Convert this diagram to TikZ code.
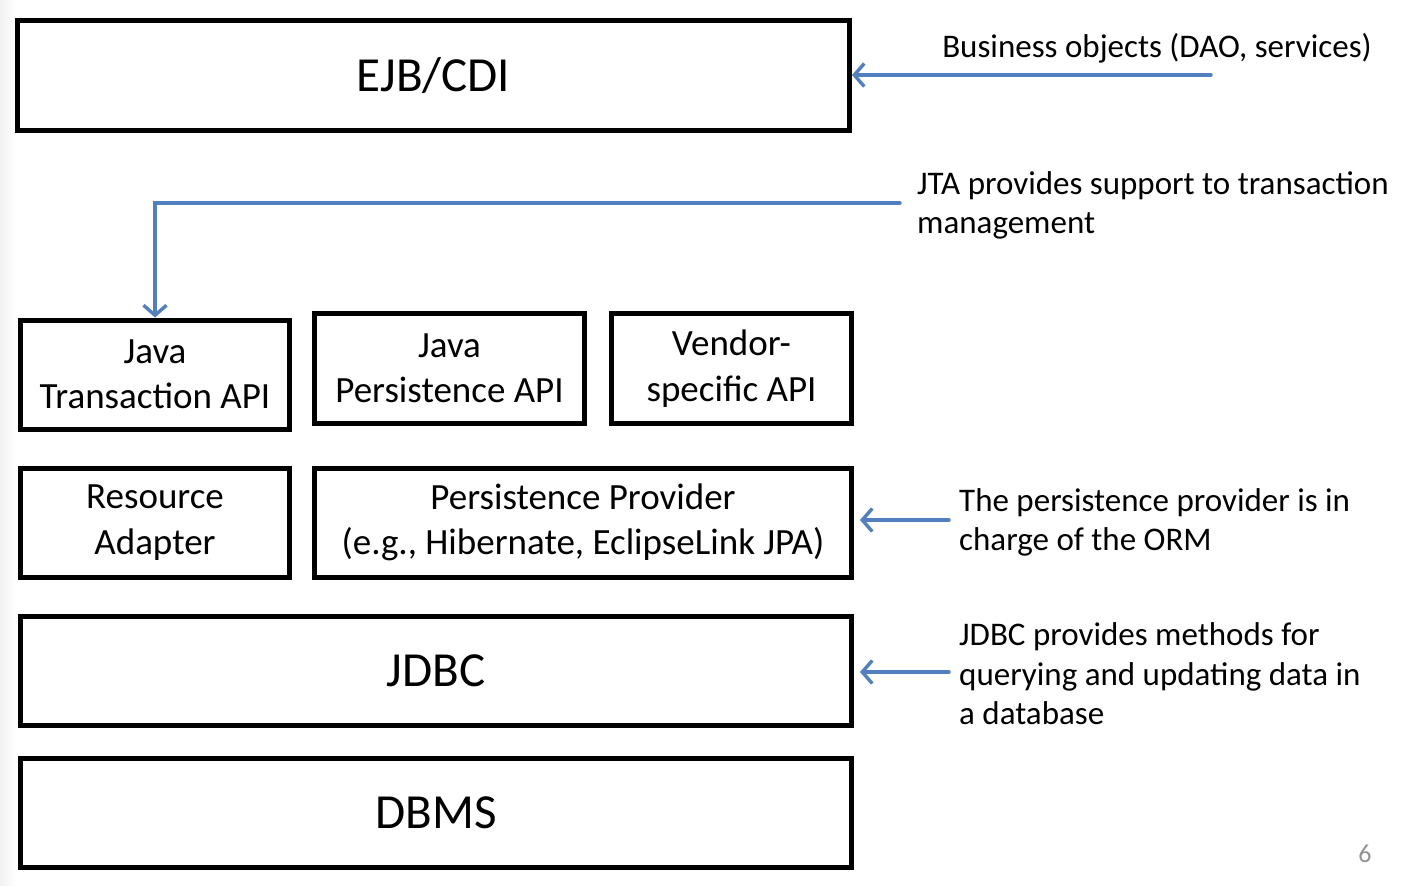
\documentclass[tikz,border=0pt]{standalone}
\usepackage{fontspec}
\setmainfont{Carlito}
\usetikzlibrary{arrows.meta,shadows}
\definecolor{arrblue}{RGB}{82,128,190}
\tikzset{
  box/.style={draw=black, line width=5pt, fill=white, align=center, inner sep=0pt,
    font=\fontsize{37}{45.5}\selectfont,
    drop shadow={opacity=0.22, shadow xshift=2pt, shadow yshift=-2.5pt}},
  bigbox/.style={box, font=\fontsize{49}{58}\selectfont},
  arr/.style={draw=arrblue, line width=3.4pt, line cap=round, -{Straight Barb[length=10pt,width=23pt,line width=3.4pt]}},
  note/.style={align=left, inner sep=0pt, font=\fontsize{33}{39.5}\selectfont},
}
\begin{document}
\begin{tikzpicture}[x=1pt,y=-1pt]
\useasboundingbox (0,0) rectangle (1406,886);
\shade[left color=gray!10, right color=white] (0,0) rectangle (16,886);
% boxes
\node[bigbox, minimum width=832, minimum height=110] (ejb) at (433.5,75.5) {EJB/CDI};
\node[box, minimum width=269, minimum height=109] (jta) at (155,374.5) {Java\\Transaction API};
\node[box, minimum width=270, minimum height=110] (jpa) at (449.5,368.5) {Java\\Persistence API};
\node[box, minimum width=240, minimum height=110] (vendor) at (731.5,368.5) {Vendor-\\specific API};
\node[box, minimum width=269, minimum height=109] (ra) at (155,522.5) {Resource\\Adapter};
\node[box, minimum width=537, minimum height=109] (pp) at (583,522.5) {Persistence Provider\\(e.g., Hibernate, EclipseLink JPA)};
\node[bigbox, minimum width=831, minimum height=109] (jdbc) at (436,671) {JDBC};
\node[bigbox, minimum width=831, minimum height=109] (dbms) at (436,813) {DBMS};
% notes
\node[note, anchor=base] (n1) at (1157,57) {Business objects (DAO, services)};
\node[note, anchor=west] (n2) at (917,205.5) {JTA provides support to transaction\\management};
\node[note, anchor=west] (n3) at (959,522.5) {The persistence provider is in\\charge of the ORM};
\node[note, anchor=west] (n4) at (959,674) {JDBC provides methods for\\querying and updating data in\\a database};
\node[text=gray!85, font=\fontsize{26}{30}\selectfont] (pg) at (1365,854) {6};
% connectors
\coordinate (s1) at (1211,75);
\coordinate (s2) at (900,203);
\coordinate (s3) at (949,520);
\coordinate (s4) at (949,672);
\draw[arr] (s1) -- (ejb.east |- s1);
\draw[arr] (s2) -| (jta.north);
\draw[arr, shorten >=6pt] (s3) -- (pp.east |- s3);
\draw[arr, shorten >=6pt] (s4) -- (jdbc.east |- s4);
\end{tikzpicture}
\end{document}
